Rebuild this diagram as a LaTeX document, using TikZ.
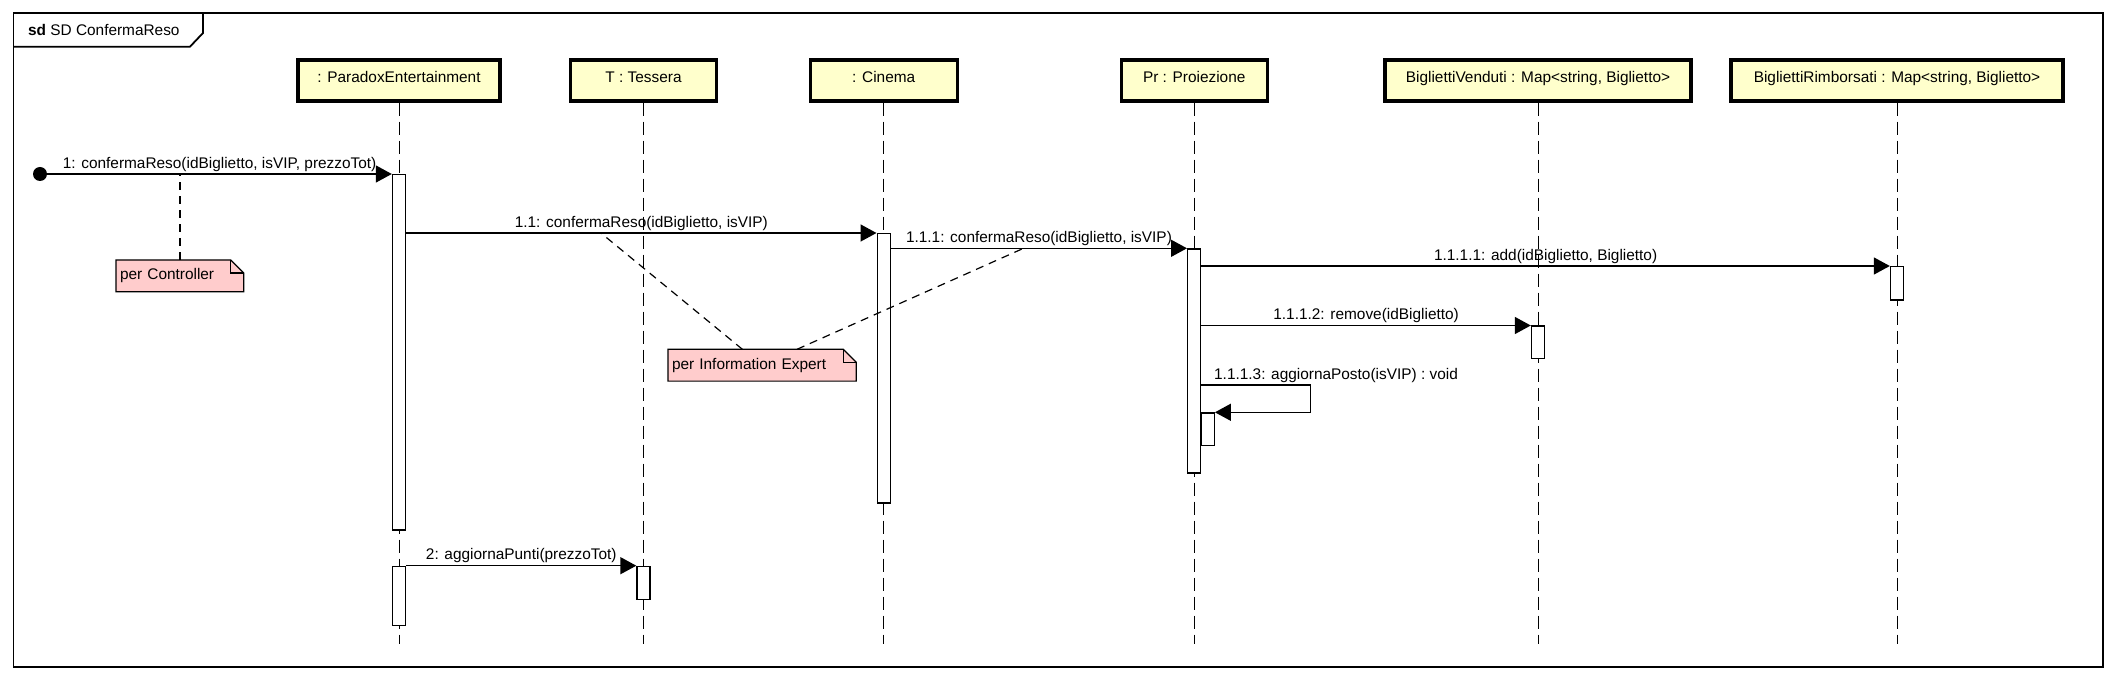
\documentclass[tikz,border=0pt]{standalone}
\usepackage{fontspec}
\setmainfont{Liberation Sans}
\usetikzlibrary{positioning,calc,arrows.meta,backgrounds}

\definecolor{headfill}{RGB}{255,255,204}
\definecolor{notefill}{RGB}{255,204,204}

\begin{document}
\begin{tikzpicture}[x=0.5pt, y=-0.5pt,
	every node/.style={font=\fontsize{7.7}{9}\selectfont},
	head/.style={draw=black, line width=1.7pt, fill=headfill, minimum height=20.5pt, inner sep=0pt,
		text height=6.5pt, text depth=4.4pt},
	bar/.style={draw=black, line width=0.7pt, fill=white, minimum width=6.5pt, inner sep=0pt, anchor=north},
	lifeline/.style={line width=0.5pt, dash pattern=on 6.5pt off 3pt},
	msg/.style={line width=0.75pt, -{Triangle[length=8pt, width=8.5pt]}},
	msglabel/.style={anchor=south, inner sep=1pt},
	notelink/.style={line width=0.6pt, dash pattern=on 4pt off 3pt},
	notetext/.style={inner sep=1.8pt, minimum height=15.5pt, align=left, anchor=north west}]
	
	% geometry
	\def\fold{6.5pt}   % dog-ear of the notes
	\coordinate (bottom) at (0,644);   % where the lifelines stop
	
	\useasboundingbox (0,0) rectangle (2118,678);
	\begin{scope}[on background layer]
		\fill[white] (0,0) rectangle (2118,678);
	\end{scope}
	
	% one participant: name #1, x #2, box width #3, text #4
	\newcommand{\participant}[4]{%
		\node[head, minimum width=#3] (#1) at (#2,80.5) {#4};
		\draw[lifeline] (#1.south) -- (#1.south |- bottom);
	}
	% one activation bar: name #1, x #2, top #3, bottom #4
	\newcommand{\activation}[4]{%
		\node[bar, minimum height={(#4-#3)*0.5pt}] (#1) at (#2,#3) {};
	}
	% one note: name #1, corner #2,#3, text width #4, text #5
	\newcommand{\umlnote}[5]{%
		\node[notetext, text width=#4] (#1) at (#2,#3) {#5};
		\begin{scope}[on background layer]
			\path[draw=black, line width=0.6pt, fill=notefill]
			(#1.south west) -- (#1.north west) -- ([xshift=-\fold]#1.north east)
			-- ([yshift=-\fold]#1.north east) -- (#1.south east) -- cycle;
			\draw[line width=0.6pt] ([xshift=-\fold]#1.north east) |- ([yshift=-\fold]#1.north east);
		\end{scope}
	}
	
	% frame
	\draw[line width=0.9pt] (13.4,13.3) rectangle (2103,666.7);
	\draw[line width=0.9pt] (13.4,46.7) -- (190,46.7) -- (203,33) -- (203,13.3);
	\node[anchor=west, inner sep=0pt] (title) at (27.7,30) {\textbf{sd} SD ConfermaReso};
	
	% participants
	\participant{pe}{399}{101pt}{: ParadoxEntertainment}
	\participant{te}{643.5}{73pt}{T : Tessera}
	\participant{ci}{883.7}{73.5pt}{: Cinema}
	\participant{pr}{1194.2}{73pt}{Pr : Proiezione}
	\participant{bv}{1538}{153pt}{BigliettiVenduti : Map<string, Biglietto>}
	\participant{br}{1897}{166pt}{BigliettiRimborsati : Map<string, Biglietto>}
	
	% activations
	\activation{pe1}{399}{174}{529.3}
	\activation{pe2}{399}{565.7}{625}
	\activation{te1}{643.5}{565.7}{599}
	\activation{ci1}{883.7}{233}{502.3}
	\activation{pr1}{1194.2}{248.3}{472.3}
	\activation{pr2}{1207.7}{412.3}{445}
	\activation{bv1}{1538}{325.5}{358}
	\activation{br1}{1897}{266}{299.3}
	
	% messages
	\node[circle, fill=black, inner sep=0pt, minimum size=7pt] (start) at (40,174) {};
	\draw[msg] (start) -- node[msglabel] {1: confermaReso(idBiglietto, isVIP, prezzoTot)} (pe1.north west);
	\draw[msg] (pe1.east |- ci1.north) -- node[msglabel] {1.1: confermaReso(idBiglietto, isVIP)}
		coordinate[pos=0.414] (m11) (ci1.north west);
	\draw[msg] (ci1.east |- pr1.north) -- node[msglabel] {1.1.1: confermaReso(idBiglietto, isVIP)}
		coordinate[pos=0.448] (m111) (pr1.north west);
	\draw[msg] (pr1.east |- br1.north) -- node[msglabel] {1.1.1.1: add(idBiglietto, Biglietto)} (br1.north west);
	\draw[msg] (pr1.east |- bv1.north) -- node[msglabel] {1.1.1.2: remove(idBiglietto)} (bv1.north west);
	\coordinate (turn) at (1310.7,385);
	\draw[msg] (pr1.east |- turn) node[msglabel, anchor=south west, xshift=5pt] {1.1.1.3: aggiornaPosto(isVIP) : void}
		-- (turn) -- (turn |- pr2.north) -- (pr2.north east);
	\draw[msg] (pe2.north east) -- node[msglabel] {2: aggiornaPunti(prezzoTot)} (te1.north west);
	
	% notes
	\umlnote{nC}{116}{260}{59.9pt}{per Controller}
	\umlnote{nIE}{668}{349.3}{90.15pt}{per Information Expert}
	\draw[notelink] (nC.north) -- (nC.north |- start);
	\draw[notelink] ($(nIE.north west)!0.395!(nIE.north east)$) -- (m11);
	\draw[notelink] ($(nIE.north west)!0.685!(nIE.north east)$) -- (m111);
	
\end{tikzpicture}
\end{document}
